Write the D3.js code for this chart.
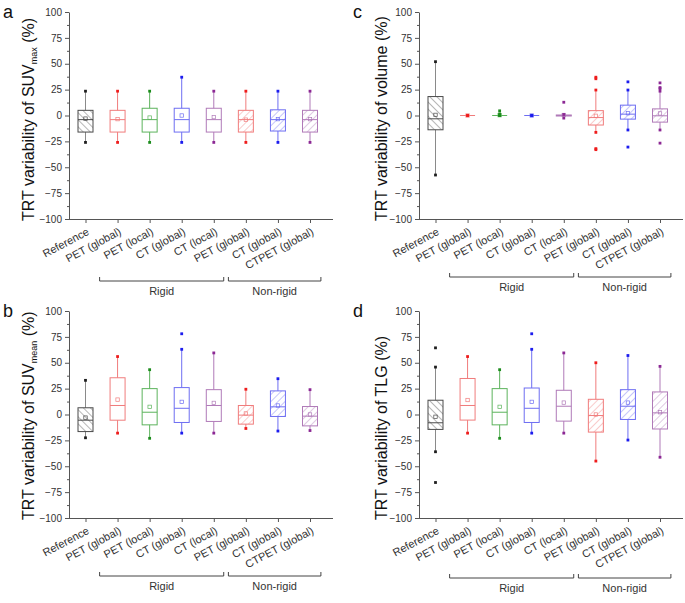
<!DOCTYPE html>
<html>
<head>
<meta charset="utf-8">
<script src="https://cdn.jsdelivr.net/npm/d3@7"></script>
<style>
  body { margin: 0; background: #fff; }
  svg { font-family: Arial, "Liberation Sans", sans-serif; }
</style>
</head>
<body>
<svg id="chart" width="685" height="603"></svg>
<script>
// categorias (hay nombres repetidos, por eso se usa el indice)
const categories = ["Reference", "PET (global)", "PET (local)", "CT (global)", "CT (local)",
                    "PET (global)", "CT (global)", "CTPET (global)"];
const catColor = ["black", "red", "green", "blue", "purple", "red", "blue", "purple"];
const catHatch = ["back", null, null, null, null, "fwd", "fwd", "fwd"];
const groupLabels = ["Rigid", "Non-rigid"];
const groupSpans = [[1, 4], [5, 7]];
const yTicks = [-100, -75, -50, -25, 0, 25, 50, 75, 100];

// [min, q1, mediana, q3, max, media]
const suvMaxStats = [
  [-26, -16, -4, 5, 23.5, -3],
  [-26, -16, -4, 5, 23.5, -3.5],
  [-26, -16, -4, 7, 23.5, -2],
  [-26, -16, -4, 7, 37, 0],
  [-26, -16, -4, 7, 23.5, -1.5],
  [-26, -16, -4, 5, 23.5, -4],
  [-26, -15, -4, 5.5, 23.5, -3.5],
  [-26, -16, -4, 5, 23.5, -3.5]
];
const suvMaxOut = [[], [], [], [], [], [], [], []];

const suvMeanStats = [
  [-22.5, -16.5, -5.5, 6.5, 33, -3],
  [-18, -5.5, 8.7, 35.5, 56, 14.4],
  [-23, -10, 2.2, 25, 43.3, 7.4],
  [-18, -7.7, 6, 26, 63, 12.2],
  [-18, -6.7, 8.7, 24, 59.5, 11.2],
  [-13.5, -9.3, -0.6, 8.7, 24.4, 1],
  [-16, -1.9, 7.4, 22.8, 34.6, 8.7],
  [-15.5, -11, -1.6, 7.7, 24, 0]
];
const suvMeanOut = [[], [], [], [78], [], [], [], []];

const volumeStats = [
  [-57.5, -13.8, -3.2, 18.3, 52, 0.6],
  [0, 0, 0, 0, 0, 0],
  [0, 0, 0, 0, 0, 0.3],
  [0, 0, 0, 0, 0, 0],
  [-2.5, -0.5, 0, 0.5, 1, 0.5],
  [-16.3, -9.2, -2, 4.7, 24.6, -0.3],
  [-14, -3.5, 1.3, 10, 24.6, 2.2],
  [-14, -6.4, -0.3, 6.4, 23.5, 2]
];
const volumeOut = [[], [], [4.5, 1.5], [], [12.8], [37, 35.5, -32, -33], [32.5, -30.5], [31.5, 27, 26, -26.7]];

const tlgStats = [
  [-36, -14.4, -8, 13.8, 45.8, -2.2],
  [-18, -5.4, 8.7, 34.8, 56, 14],
  [-23, -10, 2.2, 25, 43.3, 7.4],
  [-18, -7.7, 6, 25.6, 63, 12.2],
  [-18, -6.4, 8, 23.4, 59.5, 11.5],
  [-45, -17, -1, 14.7, 50, 0],
  [-24.7, -4.8, 8, 24, 57, 11.5],
  [-41.3, -14, 1.6, 21.8, 46.5, 2.2]
];
const tlgOut = [[64.4, -65.7], [], [], [78], [], [], [], []];

// colores: contorno de caja / marcadores
const palette = {
  black:  { box: "#4a4a4a", whisker: "#8a8a8a", mark: "#1e1e1e" },
  red:    { box: "#f07c7c", whisker: "#f07c7c", mark: "#ee1c1c" },
  green:  { box: "#5cb35c", whisker: "#5cb35c", mark: "#1c8c1c" },
  blue:   { box: "#6e6ef2", whisker: "#6e6ef2", mark: "#1c1cee" },
  purple: { box: "#b07ab8", whisker: "#b07ab8", mark: "#8c2894" }
};

const panels = [
  { letter: "a", axisX: 69,  top: 12,  bottom: 219, bracketY: 281, stats: suvMaxStats,  out: suvMaxOut,  label: ["TRT variability of SUV", "max", " (%)"], labelX: 34 },
  { letter: "c", axisX: 419, top: 12,  bottom: 219, bracketY: 277, stats: volumeStats,  out: volumeOut,  label: ["TRT variability of volume (%)"], labelX: 387 },
  { letter: "b", axisX: 69,  top: 311, bottom: 518, bracketY: 576, stats: suvMeanStats, out: suvMeanOut, label: ["TRT variability of SUV", "mean", " (%)"], labelX: 34 },
  { letter: "d", axisX: 419, top: 311, bottom: 518, bracketY: 578, stats: tlgStats,     out: tlgOut,     label: ["TRT variability of TLG (%)"], labelX: 387 }
];

const svg = d3.select("#chart");
const defs = svg.append("defs");

// patrones de rayado
Object.keys(palette).forEach(function(k) {
  ["fwd", "back"].forEach(function(dir) {
    const p = defs.append("pattern")
      .attr("id", "hatch-" + k + "-" + dir)
      .attr("patternUnits", "userSpaceOnUse")
      .attr("width", 5).attr("height", 5)
      .attr("patternTransform", "rotate(" + (dir === "fwd" ? 45 : -45) + ")");
    p.append("line")
      .attr("x1", 0).attr("y1", 0).attr("x2", 0).attr("y2", 5)
      .attr("stroke", palette[k].box).attr("stroke-width", 0.8);
  });
});

function drawPanel(cfg) {
  const g = svg.append("g");
  const x = d3.scalePoint().domain(d3.range(categories.length))
    .range([cfg.axisX + 16.5, cfg.axisX + 241]);
  const y = d3.scaleLinear().domain([-100, 100]).range([cfg.bottom, cfg.top]);
  const boxW = 15;

  // eje y con ticks menores
  const yAxis = g.append("g").attr("transform", "translate(" + cfg.axisX + ",0)")
    .call(d3.axisLeft(y).tickValues(yTicks).tickSize(4).tickSizeOuter(0).tickPadding(3));
  yAxis.select(".domain").attr("stroke", "#555");
  yAxis.selectAll(".tick line").attr("stroke", "#555");
  yAxis.selectAll(".tick text").attr("fill", "#333").style("font-size", "10px");
  g.append("g").attr("transform", "translate(" + cfg.axisX + ",0)")
    .call(d3.axisLeft(y).tickValues(d3.range(-87.5, 100, 25)).tickSize(2).tickFormat(""))
    .call(function(s) { s.select(".domain").remove(); s.selectAll("line").attr("stroke", "#555"); });

  // eje x
  const xAxis = g.append("g").attr("transform", "translate(0," + cfg.bottom + ")")
    .call(d3.axisBottom(x).tickSize(4).tickSizeOuter(0).tickFormat(""));
  xAxis.select(".domain").attr("d", "M" + cfg.axisX + ",0.5H" + (cfg.axisX + 264)).attr("stroke", "#555");
  xAxis.selectAll(".tick line").attr("stroke", "#555");
  xAxis.selectAll(".tick").append("text")
    .attr("text-anchor", "end")
    .attr("transform", "translate(4,15) rotate(-28)")
    .attr("fill", "#333")
    .style("font-size", "11px")
    .text(function(d) { return categories[d]; });

  // cajas
  cfg.stats.forEach(function(s, i) {
    const c = palette[catColor[i]];
    const cx = x(i);
    g.append("line").attr("x1", cx).attr("x2", cx).attr("y1", y(s[0])).attr("y2", y(s[1]))
      .attr("stroke", c.whisker);
    g.append("line").attr("x1", cx).attr("x2", cx).attr("y1", y(s[3])).attr("y2", y(s[4]))
      .attr("stroke", c.whisker);
    const fill = catHatch[i] ? "url(#hatch-" + catColor[i] + "-" + catHatch[i] + ")" : "none";
    g.append("rect").attr("x", cx - boxW / 2).attr("y", y(s[3]))
      .attr("width", boxW).attr("height", Math.max(0, y(s[1]) - y(s[3])))
      .attr("fill", fill).attr("stroke", c.box);
    g.append("line").attr("x1", cx - boxW / 2).attr("x2", cx + boxW / 2)
      .attr("y1", y(s[2])).attr("y2", y(s[2])).attr("stroke", c.box);
    // media
    g.append("rect").attr("x", cx - 1.7).attr("y", y(s[5]) - 1.7).attr("width", 3.4).attr("height", 3.4)
      .attr("fill", "none").attr("stroke", c.box).attr("stroke-width", 0.7);
    // extremos y atipicos
    [s[0], s[4]].concat(cfg.out[i]).forEach(function(v) {
      g.append("rect").attr("x", cx - 1.4).attr("y", y(v) - 1.4).attr("width", 2.8).attr("height", 2.8)
        .attr("fill", c.mark);
    });
  });

  // corchetes de grupo
  const step = x.step();
  groupSpans.forEach(function(span, k) {
    const x0 = x(span[0]) - step * 0.56 + (k === 1 ? 0.5 : 0);
    const x1 = x(span[1]) + (k === 0 ? step * 0.31 : step * 0.34);
    g.append("path")
      .attr("d", "M" + x0 + "," + (cfg.bracketY - 4) + "V" + cfg.bracketY + "H" + x1 + "V" + (cfg.bracketY - 4))
      .attr("fill", "none").attr("stroke", "#444");
    g.append("text").attr("x", (x0 + x1) / 2).attr("y", cfg.bracketY + 14)
      .attr("text-anchor", "middle").attr("fill", "#333").style("font-size", "11px")
      .text(groupLabels[k]);
  });

  // titulo del eje y
  const t = g.append("text")
    .attr("transform", "translate(" + cfg.labelX + "," + (cfg.bottom + 2) + ") rotate(-90)")
    .attr("text-anchor", "start").attr("fill", "#111").style("font-size", "16px");
  t.append("tspan").text(cfg.label[0]);
  if (cfg.label.length > 1) {
    t.append("tspan").attr("dy", 3).style("font-size", "9px").text(cfg.label[1]);
    t.append("tspan").attr("dy", -3).text(cfg.label[2]);
  }

  // letra del panel
  svg.append("text").attr("x", cfg.axisX - 66).attr("y", cfg.top + 6)
    .attr("fill", "#111").style("font-size", "18px").text(cfg.letter);
}

panels.forEach(drawPanel);
</script>
</body>
</html>
